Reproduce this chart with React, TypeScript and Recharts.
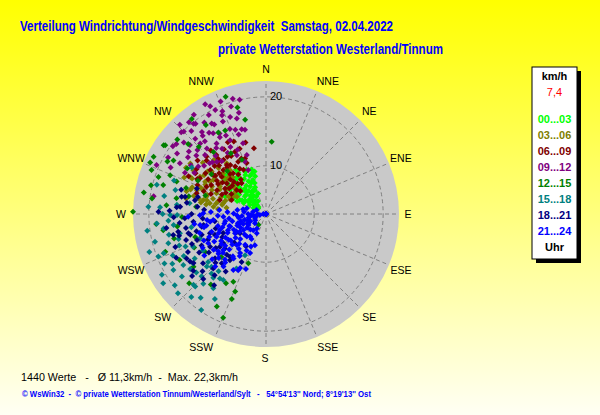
import React from 'react';
import { RadarChart, Radar, PolarGrid, PolarAngleAxis, PolarRadiusAxis } from 'recharts';

// ---- axes / labels ----
const compassLabels = ['N', 'NNE', 'NE', 'ENE', 'E', 'ESE', 'SE', 'SSE', 'S', 'SSW', 'SW', 'WSW', 'W', 'WNW', 'NW', 'NNW'];
const compassAngles = [0, 22.5, 45, 67.5, 90, 112.5, 135, 157.5, 180, 202.5, 225, 247.5, 270, 292.5, 315, 337.5];
const speedTicks = [10, 20];
const speedDomain: [number, number] = [3, 22.3];

// ---- legend ----
const bandLabels = ['00...03', '03...06', '06...09', '09...12', '12...15', '15...18', '18...21', '21...24'];
const bandColors = ['#00FF00', '#808000', '#800000', '#800080', '#008000', '#008080', '#000080', '#0000FF'];
const bandKeys = ['b0003', 'b0306', 'b0609', 'b0912', 'b1215', 'b1518', 'b1821', 'b2124'];
const currentValue = '7,4';

// ---- data: [direction in degrees, speed km/h] ----
const band0003: [number, number][] = [
  [316, 7.8], [330, 7.6], [339, 8.3], [335, 6.8], [316, 9.1], [304, 9.3], [298, 7.3], [305, 6.1], [293, 9.4],
  [341, 9.2], [332, 9.4], [301, 4.6], [299, 5.7], [313, 4.5], [320, 6.5], [325, 8.0], [310, 7.0], [318, 5.5],
  [328, 5.2], [322, 8.8], [308, 8.4], [334, 9.8], [312, 6.2], [327, 6.8], [338, 7.2], [303, 8.0], [296, 6.6],
  [315, 8.5], [324, 9.6], [309, 5.0], [331, 5.9], [319, 7.3], [344, 8.7], [300, 7.0], [326, 10.2], [336, 10.0],
  [306, 7.8], [309, 8.6], [312, 9.2], [314, 7.0], [317, 6.0], [320, 7.8], [323, 7.2], [326, 6.2], [329, 6.8],
  [332, 8.4], [335, 8.0], [337, 9.0], [340, 7.8], [342, 9.8], [345, 9.4], [328, 9.0], [322, 9.8], [318, 9.6],
  [314, 8.2], [310, 6.0], [306, 5.2], [303, 6.6], [300, 8.4], [297, 8.2], [294, 7.6], [302, 9.8], [308, 10.0],
  [316, 10.6], [326, 10.8], [333, 7.0], [339, 6.2], [321, 5.4], [315, 4.8], [305, 4.4], [296, 5.0], [312, 5.6],
  [313.6, 11.2], [318, 11.0], [310, 10.8],
];
const band0306: [number, number][] = [
  [301, 15.3], [299.5, 14], [295.6, 14.9], [289, 13.6], [282.6, 12.3], [280.8, 11.3], [292.8, 10.8], [302.8, 12.1],
  [313.6, 11.6], [320.7, 11.2], [322.2, 12.3], [286.3, 12], [300.7, 10.8], [313.2, 9.5], [303.7, 16.2], [277.9, 10.7],
  [300.6, 7.9], [282, 9.5], [279, 8.8], [285, 10.2], [295, 9.0], [306, 13.5], [310, 10.5], [291, 12.8], [297, 11.8],
  [316, 13.9], [288, 14.5], [305, 8.5], [284, 13.8], [309, 14.8], [294, 16.0], [318, 10.2], [283, 11.8], [298, 13.0],
  [280, 12.6], [282, 10.4], [284, 9.4], [286, 11.0], [288, 12.0], [290, 10.0], [292, 13.2], [294, 11.6], [296, 12.8],
  [298, 10.6], [300, 12.4], [302, 13.6], [304, 11.0], [306, 12.2], [308, 13.0], [311, 11.2], [314, 12.6], [290, 14.4],
  [286, 15.0], [296, 15.2], [300, 16.4], [292, 8.6], [288, 9.2], [283, 13.0], [298, 8.4], [304, 9.6], [310, 9.0],
  [314, 10.6], [279, 11.8], [276, 10.0], [281, 14.8],
];
const band0609: [number, number][] = [
  [317.6, 13.3], [321.3, 12.1], [333.5, 13.1], [332, 11.6], [339.2, 10.9], [349.6, 12.7], [308.2, 13.3], [298.4, 13.9],
  [294.7, 12.5], [296, 10.9], [308, 10.2], [321.2, 10.6], [321.6, 8.7], [286.9, 10], [286.6, 13.5], [306.5, 12.5],
  [315.9, 11.9], [309.3, 8.5], [292.2, 8.4], [339.3, 11.6], [312, 14.6], [327, 14.2], [302, 11.2], [315, 9.6],
  [325, 10.0], [290, 11.5], [300, 14.8], [311, 12.0], [329, 12.8], [336, 14.5], [305, 9.5], [319, 15.2], [344, 13.8],
  [296, 15.5], [298, 12.0], [301, 12.8], [304, 13.6], [307, 12.2], [310, 11.4], [313, 13.2], [316, 12.8], [319, 13.6],
  [322, 13.0], [324, 11.8], [327, 11.2], [330, 10.6], [333, 10.2], [336, 11.8], [318, 10.8], [314, 10.2], [310, 9.4],
  [306, 10.8], [302, 10.0], [298, 9.6], [294, 10.0], [290, 12.6], [293, 13.8], [297, 14.2], [303, 15.0], [308, 15.6],
  [314, 15.0], [320, 14.2], [326, 13.0], [332, 14.8], [338, 13.2], [317, 9.0], [324, 9.2], [312, 8.0], [300, 8.8],
  [320, 11.8], [304, 11.6],
];
const band0912: [number, number][] = [
  [343.9, 20.4], [347, 20], [332.6, 20.6], [337, 19.2], [336, 18.7], [339.7, 18], [321.3, 19.8], [329, 18.3],
  [315.1, 19.9], [322, 18.1], [326.8, 17], [346, 15.6], [334, 14.9], [312.2, 17.9], [304.2, 18.6], [317.9, 15.8],
  [300.5, 17.5], [294.1, 20.4], [316.7, 13.4], [333.6, 12.5], [338, 11.2], [338, 9.9], [342, 13.8], [316.8, 18],
  [314, 15.3], [325, 15.5], [330, 16.5], [320, 16.8], [310, 16.2], [305, 15.0], [343, 17.5], [328, 13.5], [340, 16.0],
  [319, 14.2], [335, 17.8], [308, 19.5], [324, 20.8], [297, 16.2], [312, 14.0], [331, 21.2], [306, 19.7], [314, 20.1],
  [279, 19.5], [318, 19.2], [322, 19.6], [326, 19.0], [330, 19.6], [334, 19.8], [338, 20.6], [342, 19.4], [345, 18.2],
  [341, 15.2], [337, 16.4], [333, 15.8], [329, 16.0], [325, 17.4], [321, 17.6], [317, 17.0], [313, 16.6], [309, 17.4],
  [306, 17.0], [303, 16.0], [300, 15.0], [308, 14.4], [314, 13.8], [320, 13.0], [326, 14.4], [332, 14.0], [336, 13.2],
  [342, 12.0], [344, 15.8], [311, 18.8], [323, 15.0], [330, 18.0], [320, 20.4], [316, 21.0], [300, 19.4], [296, 18.4],
];
const band1215: [number, number][] = [
  [347.5, 17], [4.5, 13.5], [329.7, 16.7], [334, 16.5], [304.3, 20.7], [297, 21.3], [294, 21.4], [291, 20.8],
  [300, 18.5], [289, 19.5], [285.8, 18.5], [277.8, 19.7], [290, 16.8], [315, 16.8], [319.8, 14.8], [336, 11.6],
  [271, 22.3], [264.8, 19], [261, 18.1], [249.5, 18.6], [234, 16], [238, 13.4], [205.8, 13.9], [201.7, 15.1],
  [201.9, 16.3], [199.7, 10.6], [215, 4.9], [202.4, 19.3], [283, 14.5], [275, 17.5], [296, 14.0], [306, 12.8],
  [268, 15.2], [255, 16.8], [245, 14.5], [228, 18.0], [310, 19.8], [287, 12.2], [322, 20.5], [341, 21.0], [303.9, 20.9],
  [280, 21.0], [284, 20.2], [298, 19.2], [292, 18.0], [288, 15.2], [276, 13.2], [262, 16.0], [252, 13.8], [242, 17.2],
  [218, 16.0], [210, 14.6], [208, 18.2], [226, 12.0], [300, 16.2], [312, 18.2], [326, 18.6], [318, 11.4], [330, 13.2],
  [345, 19.0], [280, 16.2],
];
const band1518: [number, number][] = [
  [273.5, 20.1], [273.6, 18.4], [269.4, 16.9], [263.2, 16.5], [253.3, 17.8], [248.4, 19.8], [238.9, 18.7],
  [233.4, 18.2], [239.7, 20.5], [225.7, 17.7], [215.4, 16.2], [212.9, 14.4], [219.6, 13.8], [238.3, 17.1],
  [228.4, 14.5], [208.4, 12], [207, 9.7], [257.4, 15.8], [245.8, 14.6], [249.8, 13.2], [230.4, 13.9], [269.4, 15.9],
  [219.6, 15], [302, 15.7], [284.8, 16.6], [265, 18.9], [249, 18.9], [224.3, 17.7], [215.6, 14.5], [278, 14.2],
  [260, 14.0], [243, 16.4], [232, 19.8], [222, 19.2], [252, 20.8], [285, 19.4], [290, 17.2], [236, 15.8], [211, 17.4],
  [222.5, 14.7], [266, 17.2], [262, 18.0], [258, 17.4], [254, 16.2], [250, 16.4], [246, 17.8], [242, 18.4], [238, 15.2],
  [234, 16.6], [230, 16.2], [226, 16.0], [222, 16.6], [218, 18.4], [214, 19.8], [228, 20.2], [236, 21.0], [244, 19.4],
  [256, 19.6], [262, 20.4], [270, 18.0], [276, 16.0], [280, 18.0], [226, 14.0], [248, 15.6], [240, 13.6],
];
const band1821: [number, number][] = [
  [271.2, 18.6], [274.3, 16], [257.2, 16.8], [258.6, 16], [254.6, 14.4], [240.8, 16.2], [224, 16.1], [218, 11.5],
  [207, 10.8], [223.8, 11.2], [249.4, 13.7], [258.8, 12.5], [251, 11.6], [267, 14.8], [234.6, 11.2], [229, 12.8],
  [235.9, 15.7], [224.1, 14], [281.6, 15.5], [274.9, 15.5], [256, 14.6], [239.7, 12.4], [235.5, 10.5], [233.4, 7.7],
  [220.1, 11.1], [290.3, 13.7], [282, 15], [281, 13.5], [262, 10.5], [246, 9.8], [228, 9.2], [215, 13.2], [244, 17.5],
  [266, 12.2], [276, 13.0], [252, 15.2], [230, 17.0], [212, 8.5], [238, 8.0], [268, 16.4], [264, 15.6], [260, 14.8],
  [256, 13.4], [252, 12.8], [248, 14.6], [244, 13.4], [240, 14.2], [236, 13.0], [232, 14.6], [228, 15.4], [226, 13.2],
  [222, 12.6], [230, 10.8], [236, 11.8], [242, 10.2], [248, 11.0], [254, 10.6], [260, 12.2], [264, 13.6], [270, 13.8],
  [274, 12.0], [278, 14.6], [284, 13.2], [286, 15.8], [262, 17.6], [250, 17.0], [238, 16.0], [232, 16.4], [220, 14.6],
  [216, 15.8], [244, 15.6], [256, 16.0], [272, 17.0], [246, 12.2],
];
const band2124: [number, number][] = [
  [270.6, 12.1], [260.5, 12.7], [243.1, 12.4], [227.1, 12.4], [223.4, 9.2], [220.4, 7.3], [199.5, 7.8], [213.5, 9.8],
  [210.3, 12.4], [214, 8.4], [270, 3.4], [260, 3.9], [280, 4.9], [260.4, 5.4], [250.3, 7], [250.6, 8.5], [250.8, 10.1],
  [252, 11.3], [263.5, 10.7], [264.2, 11.6], [266.4, 9.2], [271, 7.7], [286.5, 5.9], [293, 4.5], [235.4, 9.6],
  [245.3, 10.9], [229.9, 11.1], [235.7, 12.2], [205.7, 6.1], [202.2, 9.1], [238.1, 8.3], [234.8, 7], [229.8, 5.1],
  [206.3, 12.1], [205.6, 11.7], [268, 14.3], [255, 6.2], [245, 5.5], [240, 8.0], [232, 10.5], [258, 8.0], [247, 12.8],
  [225, 6.2], [218, 10.8], [265, 6.5], [275, 9.8], [242, 11.5], [253, 9.6], [262, 13.5], [230, 13.2], [212, 5.5],
  [268, 4.2], [256, 4.6], [238, 6.0], [248, 7.5], [222, 11.9], [276, 6.2], [260, 9.0], [215, 7.0], [200, 11.5],
  [262, 4.8], [258, 5.6], [254, 6.8], [250, 5.8], [246, 6.6], [242, 7.2], [236, 7.6], [232, 8.6], [228, 9.6],
  [226, 8.2], [222, 8.8], [218, 9.4], [216, 11.0], [220, 12.2], [226, 10.4], [232, 11.8], [236, 10.8], [240, 9.8],
  [244, 9.2], [248, 10.4], [252, 8.6], [256, 10.2], [259, 11.8], [263, 8.4], [267, 7.2], [270, 5.6], [273, 8.6],
  [278, 7.2], [282, 6.4], [272, 11.0], [268, 10.0], [258, 12.2], [254, 13.0], [248, 11.9], [242, 13.4], [236, 13.8],
  [230, 12.0], [224, 13.6], [219, 12.8], [212, 10.2], [208, 9.0], [205, 8.2], [210, 7.2], [218, 6.0], [226, 7.3],
  [234, 6.4], [244, 8.2], [252, 7.3], [262, 7.0], [266, 5.2], [257, 9.2], [247, 9.0], [239, 10.6], [233, 9.4],
  [228, 11.4], [262, 11.2], [269, 12.6], [243, 6.0], [250, 4.7], [240, 4.8],
];

const bandPoints = [band0003, band0306, band0609, band0912, band1215, band1518, band1821, band2124];

const chartData = bandPoints.flatMap((pts, bi) =>
  pts.map(([dir, speed]) => ({ dir, [bandKeys[bi]]: speed }))
);

const titleText = 'Verteilung Windrichtung/Windgeschwindigkeit  Samstag, 02.04.2022';
const subtitleText = 'private Wetterstation Westerland/Tinnum';
const statsText = '1440 Werte   -   Ø 11,3km/h  -  Max. 22,3km/h';
const footerText = "© WsWin32  -  © private Wetterstation Tinnum/Westerland/Sylt   -   54°54'13'' Nord; 8°19'13'' Ost";

const CX = 266;
const CY = 214;
const R = 133;
const FONT = '"Liberation Sans", Arial, sans-serif';

// label nudges (style only), keyed by compass index
const labelNudge: Record<number, [number, number]> = {
  1: [6, 2], 15: [-9, 2], 7: [6, -2], 9: [-9, -2], 4: [-4, 0], 12: [1, 0], 0: [0, 1], 8: [-1, -2],
};

const makeDot = (color: string) => (props: any) => {
  const { cx, cy, index } = props;
  if (!Number.isFinite(cx) || !Number.isFinite(cy)) return <g key={`n${index}`} />;
  const s = 3;
  return (
    <path
      key={`d${index}`}
      d={`M${cx},${cy - s}L${cx + s},${cy}L${cx},${cy + s}L${cx - s},${cy}Z`}
      fill={color}
      stroke="none"
    />
  );
};

const AngleTick = (p: any) => {
  const idx = compassAngles.indexOf(p.payload.value);
  const [dx, dy] = labelNudge[idx] || [0, 0];
  return (
    <text x={p.x + dx} y={p.y + dy} textAnchor="middle" dominantBaseline="central" fontSize={10.5} fontFamily={FONT} fill="#000">
      {idx >= 0 ? compassLabels[idx] : ''}
    </text>
  );
};

const RadiusTick = (p: any) => (
  <text x={p.x + 4} y={p.y - 0.5} textAnchor="start" dominantBaseline="central" fontSize={11} fontFamily={FONT} fill="#000">
    {p.payload.value}
  </text>
);

export default function App() {
  return (
    <div
      style={{
        position: 'absolute',
        left: 0,
        top: 0,
        width: 600,
        height: 415,
        overflow: 'hidden',
        background: 'linear-gradient(to bottom, #FFFF00 0%, #FFFFF4 100%)',
        fontFamily: FONT,
      }}
    >
      <div
        style={{
          position: 'absolute',
          left: CX - R,
          top: CY - R,
          width: 2 * R,
          height: 2 * R,
          borderRadius: '50%',
          background: '#C9C9C9',
        }}
      />
      <div
        style={{ position: 'absolute', left: CX - 2.5, top: CY - 2.5, width: 5, height: 5, background: '#808080' }}
      />
      <div style={{ position: 'absolute', left: 0, top: 0 }}>
        <RadarChart
          width={600}
          height={415}
          cx={CX}
          cy={CY}
          outerRadius={R}
          data={chartData}
          margin={{ top: 0, right: 0, bottom: 0, left: 0 }}
        >
          <PolarGrid gridType="circle" stroke="#808080" strokeDasharray="4 3" />
          <PolarAngleAxis
            dataKey="dir"
            type="number"
            domain={[0, 360]}
            ticks={compassAngles}
            allowDataOverflow
            axisLine={false}
            tickLine={false}
            tickSize={13}
            tick={AngleTick}
          />
          <PolarRadiusAxis
            type="number"
            angle={90}
            domain={speedDomain}
            ticks={speedTicks}
            allowDataOverflow
            axisLine={false}
            tickLine={false}
            tick={RadiusTick}
          />
          {bandKeys.map((k, i) => (
            <Radar
              key={k}
              dataKey={k}
              stroke="none"
              fill="none"
              fillOpacity={0}
              dot={makeDot(bandColors[i])}
              activeDot={false}
              isAnimationActive={false}
            />
          ))}
        </RadarChart>
      </div>
      <svg
        width={600}
        height={415}
        style={{ position: 'absolute', left: 0, top: 0, pointerEvents: 'none' }}
      >
        <text x={20} y={30.5} fontSize={14} fontWeight="bold" fill="#0000FF" fontFamily={FONT} textLength={373} lengthAdjust="spacingAndGlyphs" style={{ whiteSpace: 'pre' }}>
          {titleText}
        </text>
        <text x={218} y={54} fontSize={14} fontWeight="bold" fill="#0000FF" fontFamily={FONT} textLength={225} lengthAdjust="spacingAndGlyphs">
          {subtitleText}
        </text>
        <text x={21} y={381} fontSize={11.5} fill="#000" fontFamily={FONT} textLength={217} lengthAdjust="spacingAndGlyphs" style={{ whiteSpace: 'pre' }}>
          {statsText}
        </text>
        <text x={22} y={396.7} fontSize={8.5} fontWeight="bold" fill="#0000FF" fontFamily={FONT} textLength={349} lengthAdjust="spacingAndGlyphs" style={{ whiteSpace: 'pre' }}>
          {footerText}
        </text>

        <rect x={536} y={71} width={45} height={192} fill="#000" />
        <rect x={532} y={67} width={45} height={192} fill="#FFF" stroke="#000" strokeWidth={1} />
        <text x={554.5} y={76} textAnchor="middle" dominantBaseline="central" fontSize={11} fontWeight="bold" fill="#000" fontFamily={FONT}>
          km/h
        </text>
        <text x={554.5} y={92} textAnchor="middle" dominantBaseline="central" fontSize={11} fill="#FF0000" fontFamily={FONT}>
          {currentValue}
        </text>
        {bandLabels.map((lbl, i) => (
          <text key={lbl} x={554.5} y={119.3 + i * 15.9} textAnchor="middle" dominantBaseline="central" fontSize={11} fontWeight="bold" fill={bandColors[i]} fontFamily={FONT}>
            {lbl}
          </text>
        ))}
        <text x={554.5} y={247.3} textAnchor="middle" dominantBaseline="central" fontSize={11} fontWeight="bold" fill="#000" fontFamily={FONT}>
          Uhr
        </text>
      </svg>
    </div>
  );
}
